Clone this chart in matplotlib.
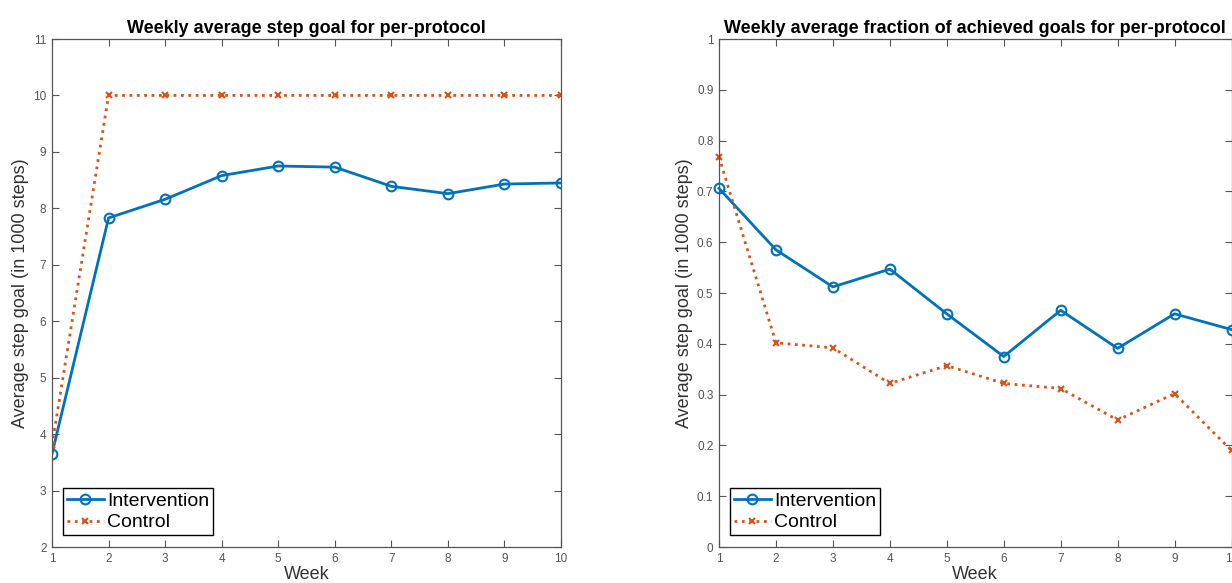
import matplotlib
matplotlib.use("Agg")
import matplotlib.pyplot as plt

plt.rcParams.update({
    "font.family": ["Liberation Sans", "DejaVu Sans"],
    "font.size": 9,
})

weeks = [1, 2, 3, 4, 5, 6, 7, 8, 9, 10]

# left panel: weekly average step goal (1000 steps)
goal_intervention = [3.65, 7.83, 8.16, 8.58, 8.75, 8.73, 8.39, 8.26, 8.43, 8.45]
goal_control = [3.80, 10.0, 10.0, 10.0, 10.0, 10.0, 10.0, 10.0, 10.0, 10.0]

# right panel: fraction of achieved goals
frac_intervention = [0.706, 0.585, 0.512, 0.547, 0.459, 0.375, 0.466, 0.391, 0.459, 0.428]
frac_control = [0.768, 0.402, 0.392, 0.322, 0.357, 0.322, 0.312, 0.250, 0.302, 0.190]

BLUE = "#0072BD"
ORANGE = "#D95319"
AXC = "#555555"

fig = plt.figure(figsize=(12.32, 5.83), dpi=100)
ax1 = fig.add_axes([52 / 1232, 36 / 583, 509 / 1232, 508 / 583])
ax2 = fig.add_axes([719 / 1232, 36 / 583, 512.5 / 1232, 508 / 583])


def style(ax, ylim, yticks, title):
    ax.set_xlim(1, 10)
    ax.set_ylim(*ylim)
    ax.set_xticks(weeks)
    ax.set_yticks(yticks)
    ax.tick_params(direction="in", length=5, width=0.8, top=True, right=True,
                   labelsize=8.5, colors=AXC, pad=4)
    for s in ax.spines.values():
        s.set_color(AXC)
        s.set_linewidth(0.9)
    ax.set_xlabel("Week", fontsize=13, color="#333333", labelpad=1)
    ax.set_ylabel("Average step goal (in 1000 steps)", fontsize=13, color="#333333", labelpad=3)
    ax.set_title(title, fontsize=13, fontweight="bold", pad=4)
    ax.legend(loc="lower left", bbox_to_anchor=(0.021, 0.023), fontsize=14, fancybox=False,
              edgecolor="black", framealpha=1, handlelength=1.9, handletextpad=0.2,
              borderpad=0.2, labelspacing=0.2, borderaxespad=0)


ax1.plot(weeks, goal_intervention, "-o", color=BLUE, lw=2, ms=7, mfc="none", mew=1.5, label="Intervention")
ax1.plot(weeks, goal_control, ":x", color=ORANGE, lw=2, ms=5, mew=1.5, label="Control")
style(ax1, (2, 11), range(2, 12), "Weekly average step goal for per-protocol")
ax1.set_yticklabels([str(v) for v in range(2, 12)])

ax2.plot(weeks, frac_intervention, "-o", color=BLUE, lw=2, ms=7, mfc="none", mew=1.5, label="Intervention",
         clip_on=False)
ax2.plot(weeks, frac_control, ":x", color=ORANGE, lw=2, ms=5, mew=1.5, label="Control", clip_on=False)
yt = [0, 0.1, 0.2, 0.3, 0.4, 0.5, 0.6, 0.7, 0.8, 0.9, 1]
style(ax2, (0, 1), yt, "Weekly average fraction of achieved goals for per-protocol")
ax2.set_yticklabels(["0", "0.1", "0.2", "0.3", "0.4", "0.5", "0.6", "0.7", "0.8", "0.9", "1"])

fig.savefig("out.png", dpi=100)
